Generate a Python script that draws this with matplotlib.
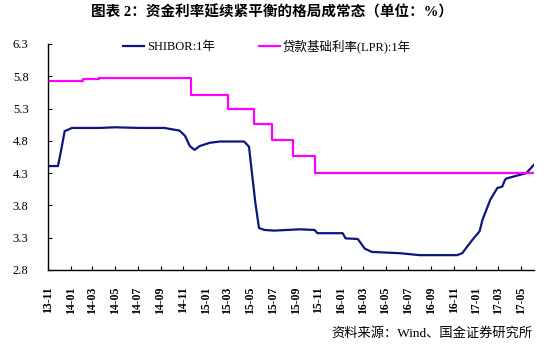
import matplotlib
matplotlib.use("Agg")
import matplotlib.pyplot as plt
import matplotlib.dates as mdates
import pandas as pd

plt.rcParams["font.family"] = ["Liberation Serif", "Noto Sans CJK SC"]

# SHIBOR 1Y
shibor_dates = [
    "2013-11-01", "2013-11-28", "2013-12-08", "2013-12-16", "2014-01-05",
    "2014-03-20", "2014-05-01", "2014-07-06", "2014-09-12", "2014-10-01",
    "2014-10-22", "2014-11-06", "2014-11-19", "2014-12-02", "2014-12-16",
    "2015-01-12", "2015-02-09", "2015-04-15", "2015-04-28", "2015-05-06",
    "2015-05-15", "2015-05-25", "2015-06-09", "2015-07-05", "2015-09-12",
    "2015-10-22", "2015-10-30", "2016-01-06", "2016-01-14", "2016-02-16",
    "2016-03-06", "2016-03-25", "2016-06-09", "2016-08-01", "2016-11-10",
    "2016-11-24", "2016-12-22", "2017-01-10", "2017-01-18", "2017-02-08",
    "2017-02-27", "2017-03-12", "2017-03-20", "2017-03-25", "2017-05-16",
    "2017-06-06",
]
shibor_values = [
    4.41, 4.41, 4.70, 4.95, 5.00,
    5.00, 5.01, 5.00, 5.00, 4.98,
    4.96, 4.88, 4.72, 4.66, 4.72,
    4.77, 4.79, 4.79, 4.71, 4.30,
    3.85, 3.45, 3.42, 3.41, 3.43,
    3.42, 3.37, 3.37, 3.29, 3.28,
    3.13, 3.08, 3.06, 3.03, 3.03,
    3.06, 3.27, 3.40, 3.58, 3.89,
    4.07, 4.09, 4.20, 4.22, 4.30,
    4.43,
]

# LPR 1Y
lpr_dates = [
    "2013-11-01", "2014-02-03", "2014-03-19", "2014-06-15", "2014-11-22",
    "2015-03-01", "2015-05-11", "2015-06-28", "2015-08-26", "2015-10-24",
    "2017-06-06",
]
lpr_values = [5.73, 5.76, 5.78, 5.77, 5.51, 5.30, 5.06, 4.82, 4.56, 4.30, 4.30]

yticks = [2.8, 3.3, 3.8, 4.3, 4.8, 5.3, 5.8, 6.3]

title = "图表 2：资金利率延续紧平衡的格局成常态（单位：%）"
source = "资料来源：Wind、国金证券研究所"

fig = plt.figure(figsize=(5.5, 3.46), dpi=100)
ax = fig.add_axes([48 / 550, 1 - 270 / 346, 486 / 550, 226 / 346])

ax.plot(pd.to_datetime(shibor_dates), shibor_values, color="#0d1580", lw=1.6,
        label="SHIBOR:1年")
ax.plot(pd.to_datetime(lpr_dates), lpr_values, color="#ff00ff", lw=1.6,
        drawstyle="steps-post", label="贷款基础利率(LPR):1年")

ax.set_ylim(2.8, 6.3)
ax.set_yticks(yticks)
ax.set_yticklabels([f"{v:.1f}" for v in yticks], fontsize=9)
ax.set_xlim(pd.Timestamp("2013-11-01"), pd.Timestamp("2017-06-06"))
ax.xaxis.set_major_locator(mdates.MonthLocator(bymonth=[1, 3, 5, 7, 9, 11]))
ax.xaxis.set_major_formatter(mdates.DateFormatter("%y-%m"))
for lab in ax.get_xticklabels():
    lab.set_rotation(90)
    lab.set_fontsize(8.5)
    lab.set_fontweight("bold")
ax.tick_params(direction="in", length=3, width=0.8)
ax.tick_params(axis="y", pad=14)
ax.tick_params(axis="x", pad=12)

for s in ["top", "right"]:
    ax.spines[s].set_visible(False)
for s in ["left", "bottom"]:
    ax.spines[s].set_linewidth(1.0)

fig.legend(loc="center", bbox_to_anchor=(0.485, 1 - 46 / 346), ncol=2,
           frameon=False, fontsize=9, handlelength=1.7, columnspacing=3.5,
           handletextpad=0.2)

fig.text(0.495, 1 - 12 / 346, title, ha="center", va="center",
         fontsize=10.5, fontweight="bold",
         family=["Liberation Serif", "Noto Sans CJK SC"])
fig.text(532 / 550, 1 - 333 / 346, source, ha="right", va="center",
         fontsize=9.5)

fig.savefig("out.png", dpi=100)
